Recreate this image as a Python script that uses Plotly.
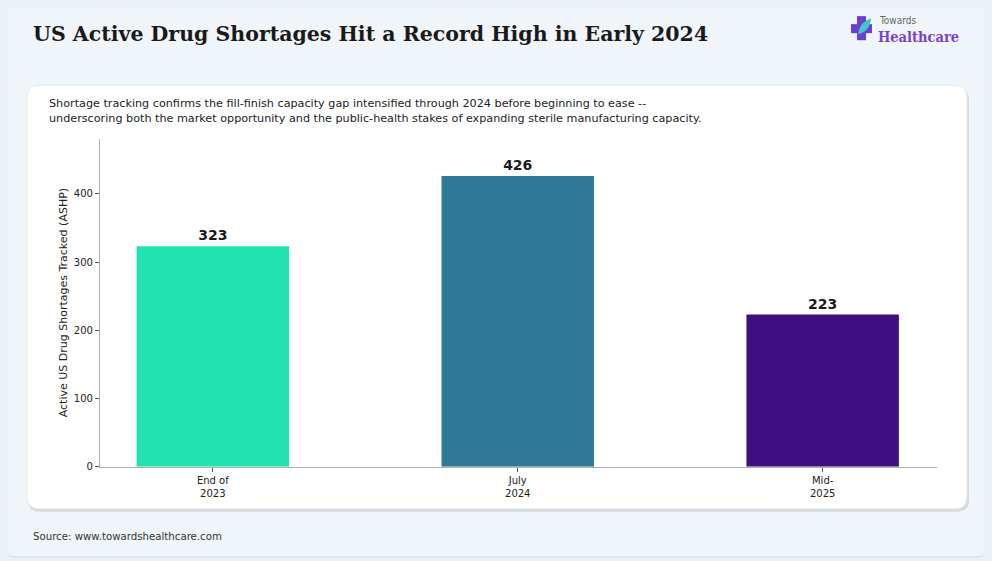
import plotly.graph_objects as go

# Page has an 8px body margin; the capture is vertically scaled by 561/568.
OFF = 8
K = 568 / 561
W, H = 992 - OFF, 568 - OFF

categories = ["End of<br>2023", "July<br>2024", "Mid-<br>2025"]
values = [323, 426, 223]
bar_colors = ["#22e3b0", "#2e7898", "#3f0f80"]
y_ticks = [0, 100, 200, 300, 400]

title = "US Active Drug Shortages Hit a Record High in Early 2024"
subtitle = ("Shortage tracking confirms the fill-finish capacity gap intensified through 2024 before beginning to ease --<br>"
            "underscoring both the market opportunity and the public-health stakes of expanding sterile manufacturing capacity.")
y_title = "Active US Drug Shortages Tracked (ASHP)"
source = "Source: www.towardshealthcare.com"

BG = "#e9f1f7"


def px(x):
    return (x - OFF) / W


def py(y):
    return 1 - (y * K - OFF) / H


def rrect(x0, y0, x1, y1, r):
    pts = [
        f"M {px(x0 + r)},{py(y0)}",
        f"L {px(x1 - r)},{py(y0)}",
        f"Q {px(x1)},{py(y0)} {px(x1)},{py(y0 + r)}",
        f"L {px(x1)},{py(y1 - r)}",
        f"Q {px(x1)},{py(y1)} {px(x1 - r)},{py(y1)}",
        f"L {px(x0 + r)},{py(y1)}",
        f"Q {px(x0)},{py(y1)} {px(x0)},{py(y1 - r)}",
        f"L {px(x0)},{py(y0 + r)}",
        f"Q {px(x0)},{py(y0)} {px(x0 + r)},{py(y0)}",
        "Z",
    ]
    return " ".join(pts)


fig = go.Figure()
fig.add_trace(go.Bar(
    x=categories,
    y=values,
    marker=dict(color=bar_colors, line=dict(width=0)),
    width=0.5,
    text=[str(v) for v in values],
    textposition="outside",
    textfont=dict(family="DejaVu Sans", size=14, color="#1a1a1a", weight="bold"),
    cliponaxis=False,
    hoverinfo="skip",
))

shapes = [
    dict(type="path", xref="paper", yref="paper", path=rrect(5, 4, 987, 555, 10),
         fillcolor="#f0f5fa", line=dict(color="#d3dbe2", width=1), layer="below"),
    dict(type="path", xref="paper", yref="paper", path=rrect(28, 88, 969, 510, 12),
         fillcolor="#d5dadf", line=dict(width=0), layer="below"),
    dict(type="path", xref="paper", yref="paper", path=rrect(27, 85, 967, 507, 12),
         fillcolor="#ffffff", line=dict(color="#e6e9ec", width=1), layer="below"),
    # logo cross
    dict(type="rect", xref="paper", yref="paper", x0=px(857), x1=px(866), y0=py(40), y1=py(16),
         fillcolor="#6b3fd4", line=dict(width=0)),
    dict(type="rect", xref="paper", yref="paper", x0=px(851), x1=px(872), y0=py(33), y1=py(24),
         fillcolor="#6b3fd4", line=dict(width=0)),
    dict(type="path", xref="paper", yref="paper",
         path=f"M {px(858)},{py(34)} Q {px(860)},{py(21)} {px(871)},{py(18)} Q {px(870)},{py(31)} {px(858)},{py(34)} Z",
         fillcolor="#3fc9c0", line=dict(width=0)),
]

annotations = [
    dict(text=f"<b>{title}</b>", x=px(31), y=py(34), xref="paper", yref="paper",
         xanchor="left", yanchor="middle", showarrow=False,
         font=dict(family="DejaVu Serif", size=20.5, color="#1a1a1a")),
    dict(text=subtitle, x=px(47), y=py(111), xref="paper", yref="paper",
         xanchor="left", yanchor="middle", showarrow=False, align="left",
         font=dict(family="DejaVu Sans", size=11.2, color="#222222")),
    dict(text=source, x=px(31), y=py(535), xref="paper", yref="paper",
         xanchor="left", yanchor="middle", showarrow=False,
         font=dict(family="DejaVu Sans", size=10.2, color="#333333")),
    dict(text="Towards", x=px(877), y=py(20), xref="paper", yref="paper",
         xanchor="left", yanchor="middle", showarrow=False,
         font=dict(family="DejaVu Sans Condensed, DejaVu Sans", size=10, color="#666666")),
    dict(text="<b>Healthcare</b>", x=px(876), y=py(36), xref="paper", yref="paper",
         xanchor="left", yanchor="middle", showarrow=False,
         font=dict(family="DejaVu Serif Condensed, DejaVu Serif", size=14.5, color="#7b3fd0")),
]

fig.update_layout(
    width=W, height=H,
    margin=dict(l=0, r=0, t=0, b=0),
    paper_bgcolor=BG,
    plot_bgcolor="rgba(0,0,0,0)",
    showlegend=False,
    shapes=shapes,
    annotations=annotations,
    xaxis=dict(
        domain=[px(100), px(937)],
        range=[-0.37, 2.375],
        showline=True, linecolor="#b0b0b0", linewidth=1.2,
        ticks="outside", ticklen=4, tickcolor="#555555",
        tickfont=dict(family="DejaVu Sans", size=10, color="#222222"),
        showgrid=False, zeroline=False,
    ),
    yaxis=dict(
        domain=[py(465), py(138)],
        range=[0, 481],
        tickvals=y_ticks,
        showline=True, linecolor="#b0b0b0", linewidth=1.2,
        ticks="outside", ticklen=4, tickcolor="#555555",
        tickfont=dict(family="DejaVu Sans", size=10, color="#222222"),
        showgrid=False, zeroline=False,
        title=dict(text=y_title, font=dict(family="DejaVu Sans", size=11, color="#222222"), standoff=3),
    ),
    font=dict(family="DejaVu Sans"),
)

fig.write_html("out.html", post_script=f"document.body.style.background='{BG}';")
